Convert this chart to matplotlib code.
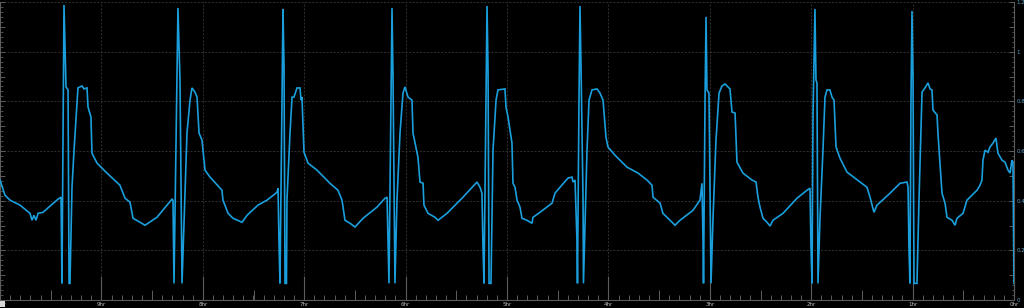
import matplotlib
matplotlib.use("Agg")
import matplotlib.pyplot as plt
from matplotlib.ticker import MultipleLocator, FuncFormatter
from matplotlib.patches import Rectangle
import numpy as np

# ---- data (x = hours ago, y = level) ----
hours_ago = [
    10.000, 9.951, 9.901, 9.803, 9.704, 9.684, 9.665, 9.645, 9.625, 9.576,
    9.507, 9.428, 9.398, 9.393, 9.389, 9.369, 9.349, 9.329, 9.319, 9.310,
    9.290, 9.270, 9.231, 9.191, 9.172, 9.142, 9.132, 9.103, 9.093, 9.043,
    8.945, 8.817, 8.767, 8.718, 8.688, 8.619, 8.570, 8.452, 8.304, 8.294,
    8.284, 8.245, 8.225, 8.205, 8.156, 8.126, 8.107, 8.077, 8.057, 8.037,
    8.008, 7.978, 7.929, 7.811, 7.801, 7.751, 7.702, 7.613, 7.564, 7.456,
    7.367, 7.268, 7.258, 7.249, 7.239, 7.219, 7.209, 7.199, 7.189, 7.175,
    7.170, 7.140, 7.120, 7.101, 7.071, 7.041, 7.032, 7.022, 7.002, 6.962,
    6.874, 6.746, 6.667, 6.627, 6.598, 6.548, 6.499, 6.420, 6.282, 6.203,
    6.183, 6.174, 6.164, 6.134, 6.124, 6.105, 6.085, 6.055, 6.026, 6.006,
    5.976, 5.937, 5.927, 5.878, 5.858, 5.828, 5.819, 5.779, 5.710, 5.680,
    5.592, 5.434, 5.296, 5.266, 5.247, 5.237, 5.227, 5.207, 5.197, 5.187,
    5.177, 5.158, 5.138, 5.108, 5.089, 5.020, 5.010, 4.990, 4.951, 4.941,
    4.921, 4.901, 4.872, 4.852, 4.803, 4.753, 4.744, 4.675, 4.556, 4.527,
    4.477, 4.398, 4.359, 4.349, 4.329, 4.310, 4.305, 4.290, 4.280, 4.270,
    4.250, 4.246, 4.231, 4.211, 4.191, 4.162, 4.112, 4.083, 4.053, 4.024,
    4.004, 3.935, 3.817, 3.708, 3.619, 3.570, 3.560, 3.491, 3.462, 3.392,
    3.343, 3.294, 3.166, 3.097, 3.077, 3.067, 3.062, 3.047, 3.037, 3.028,
    3.008, 2.988, 2.968, 2.939, 2.909, 2.880, 2.850, 2.801, 2.781, 2.751,
    2.732, 2.673, 2.584, 2.544, 2.525, 2.505, 2.475, 2.436, 2.406, 2.377,
    2.278, 2.140, 2.041, 2.012, 2.002, 1.992, 1.982, 1.963, 1.953, 1.943,
    1.933, 1.913, 1.884, 1.864, 1.844, 1.815, 1.795, 1.775, 1.755, 1.716,
    1.647, 1.519, 1.450, 1.420, 1.381, 1.351, 1.223, 1.124, 1.055, 1.045,
    1.036, 1.026, 1.016, 1.006, 0.996, 0.986, 0.957, 0.937, 0.907, 0.878,
    0.848, 0.828, 0.809, 0.799, 0.759, 0.750, 0.710, 0.680, 0.661, 0.611,
    0.582, 0.562, 0.503, 0.464, 0.365, 0.335, 0.316, 0.306, 0.286, 0.256,
    0.237, 0.207, 0.178, 0.158, 0.118, 0.089, 0.059, 0.039, 0.020, 0.010,
    0.004, 0.000,
]
level = [
    0.483, 0.422, 0.402, 0.382, 0.349, 0.321, 0.341, 0.321, 0.349, 0.353,
    0.378, 0.406, 0.414, 0.228, 0.067, 1.188, 0.858, 0.846, 0.067, 0.067,
    0.454, 0.603, 0.854, 0.862, 0.850, 0.854, 0.777, 0.737, 0.591, 0.551,
    0.511, 0.462, 0.410, 0.394, 0.329, 0.313, 0.301, 0.333, 0.406, 0.402,
    0.067, 1.176, 0.886, 0.067, 0.672, 0.805, 0.854, 0.837, 0.817, 0.672,
    0.644, 0.523, 0.495, 0.442, 0.402, 0.349, 0.329, 0.313, 0.341, 0.382,
    0.402, 0.434, 0.450, 0.240, 0.067, 0.817, 1.172, 0.938, 0.067, 0.067,
    0.402, 0.672, 0.817, 0.817, 0.854, 0.854, 0.805, 0.817, 0.595, 0.551,
    0.523, 0.470, 0.442, 0.402, 0.321, 0.309, 0.294, 0.329, 0.374, 0.410,
    0.414, 0.240, 0.067, 1.176, 0.898, 0.067, 0.402, 0.672, 0.833, 0.858,
    0.817, 0.805, 0.672, 0.575, 0.475, 0.470, 0.382, 0.349, 0.333, 0.321,
    0.349, 0.414, 0.475, 0.454, 0.430, 0.220, 0.067, 0.805, 1.184, 0.927,
    0.067, 0.067, 0.603, 0.805, 0.846, 0.850, 0.777, 0.737, 0.632, 0.470,
    0.454, 0.402, 0.374, 0.329, 0.321, 0.309, 0.333, 0.353, 0.390, 0.430,
    0.454, 0.491, 0.495, 0.475, 0.483, 0.240, 0.067, 0.805, 1.184, 0.938,
    0.402, 0.067, 0.294, 0.603, 0.805, 0.846, 0.850, 0.833, 0.805, 0.656,
    0.616, 0.583, 0.535, 0.511, 0.483, 0.462, 0.414, 0.390, 0.349, 0.321,
    0.301, 0.321, 0.361, 0.402, 0.470, 0.240, 0.067, 0.805, 1.140, 0.846,
    0.833, 0.067, 0.333, 0.644, 0.833, 0.862, 0.870, 0.850, 0.757, 0.753,
    0.555, 0.511, 0.483, 0.475, 0.414, 0.374, 0.329, 0.313, 0.298, 0.321,
    0.349, 0.410, 0.442, 0.450, 0.212, 0.067, 0.753, 1.172, 0.886, 0.874,
    0.067, 0.333, 0.603, 0.817, 0.846, 0.846, 0.817, 0.805, 0.616, 0.571,
    0.515, 0.475, 0.454, 0.414, 0.353, 0.382, 0.430, 0.470, 0.475, 0.454,
    0.212, 0.067, 0.805, 1.164, 0.894, 0.067, 0.067, 0.402, 0.837, 0.854,
    0.874, 0.850, 0.846, 0.765, 0.745, 0.672, 0.430, 0.390, 0.333, 0.321,
    0.301, 0.329, 0.349, 0.402, 0.442, 0.462, 0.483, 0.563, 0.603, 0.595,
    0.616, 0.632, 0.652, 0.591, 0.563, 0.555, 0.523, 0.511, 0.563, 0.555,
    0.269, 0.067,
]
hour_ticks = list(range(10, -1, -1))
hour_labels = [f"{h}hr" for h in hour_ticks]
level_ticks = [0, 0.2, 0.4, 0.6, 0.8, 1.0, 1.2]
level_labels = ["0", "0.2", "0.4", "0.6", "0.8", "1", "1.2"]

# ---- style ----
LINE = "#1a9fdc"
GRID = "#363636"
AXC = "#5c5c5c"
W, H = 1024, 308

fig = plt.figure(figsize=(W / 100, H / 100), dpi=100, facecolor="black")
ax = fig.add_axes([0, 8 / H, 1014 / W, 298 / H])
ax.set_facecolor("black")

for yv in level_ticks[1:]:
    ax.axhline(yv, color=GRID, lw=0.6, ls=(0, (2.5, 1.8)), zorder=1)
for hv in hour_ticks[1:-1]:
    ax.axvline(hv, color=GRID, lw=0.6, ls=(0, (2.5, 1.8)), zorder=1)

ax.plot(hours_ago, level, color=LINE, lw=1.2, zorder=3, solid_joinstyle="miter")

ax.set_xlim(10, 0)
ax.set_ylim(0, 1.2)

for s in ["top"]:
    ax.spines[s].set_visible(False)
for s in ["bottom", "right", "left"]:
    ax.spines[s].set_color(AXC)
    ax.spines[s].set_linewidth(0.8)

# x axis
ax.set_xticks(hour_ticks)
ax.set_xticklabels(hour_labels)
ax.xaxis.set_minor_locator(MultipleLocator(0.1))
ax.tick_params(axis="x", which="major", direction="in", length=17, width=0.8,
               color=AXC, labelsize=4, labelcolor="#bbbbbb", pad=1.5)
ax.tick_params(axis="x", which="minor", direction="in", length=3.6, width=0.7,
               color=AXC)
half = ax.secondary_xaxis("bottom")
half.set_xticks([h + 0.5 for h in range(10)])
half.tick_params(direction="in", length=7.5, width=0.7, color=AXC, labelbottom=False)
half.spines["bottom"].set_visible(False)

# y axis (right labels, ticks both sides)
ax.yaxis.tick_right()
ax.yaxis.set_major_locator(MultipleLocator(0.1))
lab = dict(zip([round(v, 1) for v in level_ticks], level_labels))
ax.yaxis.set_major_formatter(FuncFormatter(lambda v, p: lab.get(round(v, 1), "")))
ax.yaxis.set_minor_locator(MultipleLocator(0.02))
ax.tick_params(axis="y", which="both", left=True, right=True, direction="in",
               color=AXC, labelleft=False, labelright=True)
ax.tick_params(axis="y", which="major", length=3.5, width=0.7, labelsize=4,
               labelcolor="#5e9fc2", pad=2)
ax.tick_params(axis="y", which="minor", length=1.8, width=0.6)

# small widget box at bottom-left corner
fig.patches.append(Rectangle((0, 1 / H), 5 / W, 6 / H, transform=fig.transFigure,
                             facecolor="#d8d8d8", edgecolor="none", zorder=10))

fig.savefig("out.png", dpi=100, facecolor="black")
